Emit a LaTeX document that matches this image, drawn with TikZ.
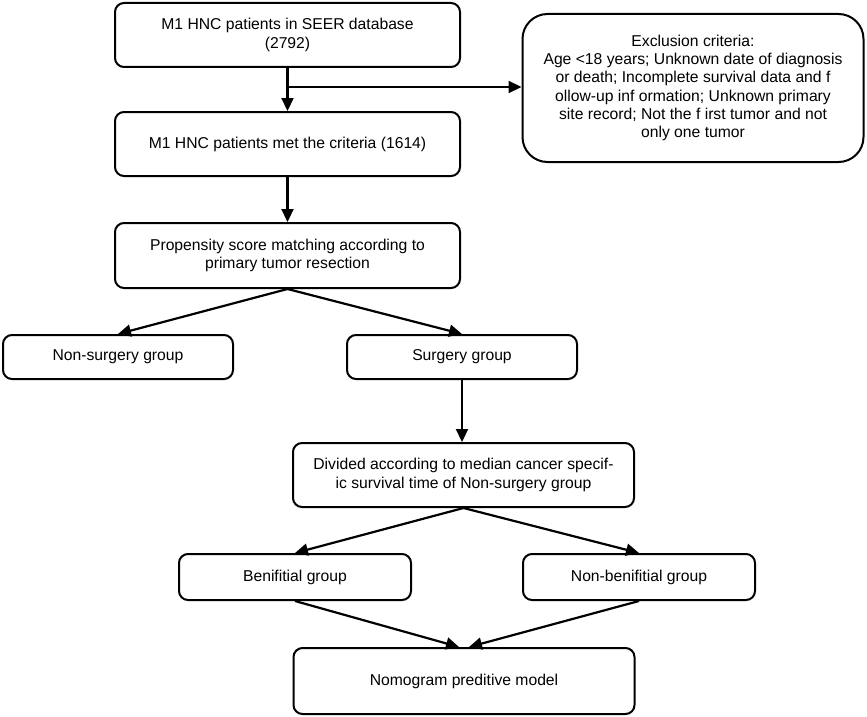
\documentclass[tikz,border=0pt]{standalone}
\usepackage{fontspec}
\setmainfont{Liberation Sans}
\usetikzlibrary{arrows.meta}
\begin{document}
\begin{tikzpicture}[x=1pt,y=-1pt,
  box/.style={draw, line width=2pt, rounded corners=9pt, align=center,
    font=\fontsize{15.7}{18.3}\selectfont, inner sep=0pt},
  arr/.style={line width=2.2pt, -{Triangle[length=13pt,width=12pt]}},
]
\useasboundingbox[fill=white] (0,0) rectangle (867,717);
\node[box, minimum width=345pt, minimum height=64pt] (b1) at (287.5,35)
  {M1 HNC patients in SEER database\\(2792)};
\node[box, rounded corners=25pt, minimum width=341pt, minimum height=148pt] (exc) at (693,88)
  {Exclusion criteria:\\Age <18 years; Unknown date of diagnosis\\or death; Incomplete survival data and f\\ollow-up inf ormation; Unknown primary\\site record; Not the f irst tumor and not\\only one tumor};
\node[box, minimum width=345pt, minimum height=64pt] (b2) at (287.5,144)
  {M1 HNC patients met the criteria (1614)};
\node[box, minimum width=345pt, minimum height=65pt] (b3) at (287.5,255.5)
  {Propensity score matching according to\\primary tumor resection};
\node[box, minimum width=230pt, minimum height=44pt] (ns) at (118,357)
  {Non-surgery group};
\node[box, minimum width=230pt, minimum height=44pt] (s) at (462,357)
  {Surgery group};
\node[box, minimum width=341pt, minimum height=64pt] (div) at (463.5,475)
  {Divided according to median cancer specif-\\ic survival time of Non-surgery group};
\node[box, minimum width=232pt, minimum height=46pt] (ben) at (295,577)
  {Benifitial group};
\node[box, minimum width=232pt, minimum height=46pt] (nben) at (639,577)
  {Non-benifitial group};
\node[box, minimum width=341pt, minimum height=66pt] (nom) at (464,681)
  {Nomogram preditive model};
\coordinate (j) at (287.5,87);
\draw[arr] (b1.south) -- (b2.north);
\draw[arr] (j) -- (j -| exc.west);
\draw[arr] (b2.south) -- (b3.north);
\draw[arr] (b3.south) -- (ns.north);
\draw[arr] (b3.south) -- (s.north);
\draw[arr] (s.south) -- (s.south |- div.north);
\draw[arr] (div.south) -- (ben.north);
\draw[arr] (div.south) -- (nben.north);
\draw[arr] (ben.south) -- ([xshift=-5pt]nom.north);
\draw[arr] (nben.south) -- ([xshift=5pt]nom.north);
\end{tikzpicture}
\end{document}
